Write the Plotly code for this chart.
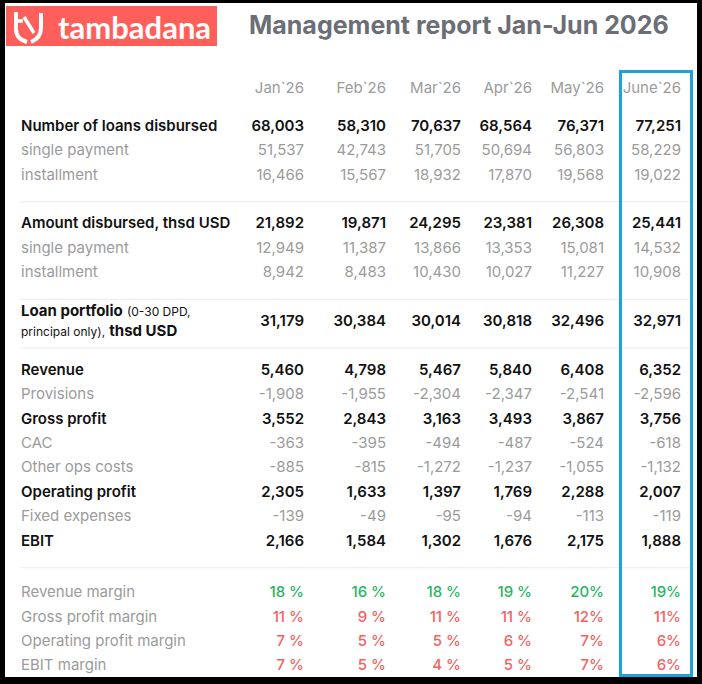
import plotly.graph_objects as go

# months / columns
months = ["Jan`26", "Feb`26", "Mar`26", "Apr`26", "May`26", "June`26"]

# loans (count)
loans_total = [68003, 58310, 70637, 68564, 76371, 77251]
loans_single = [51537, 42743, 51705, 50694, 56803, 58229]
loans_install = [16466, 15567, 18932, 17870, 19568, 19022]

# amount disbursed, thsd USD
amount_total = [21892, 19871, 24295, 23381, 26308, 25441]
amount_single = [12949, 11387, 13866, 13353, 15081, 14532]
amount_install = [8942, 8483, 10430, 10027, 11227, 10908]

# loan portfolio, thsd USD
portfolio = [31179, 30384, 30014, 30818, 32496, 32971]

# P&L, thsd USD
revenue = [5460, 4798, 5467, 5840, 6408, 6352]
provisions = [-1908, -1955, -2304, -2347, -2541, -2596]
gross_profit = [3552, 2843, 3163, 3493, 3867, 3756]
cac = [-363, -395, -494, -487, -524, -618]
other_ops = [-885, -815, -1272, -1237, -1055, -1132]
operating_profit = [2305, 1633, 1397, 1769, 2288, 2007]
fixed_exp = [-139, -49, -95, -94, -113, -119]
ebit = [2166, 1584, 1302, 1676, 2175, 1888]

# margins, %
revenue_margin = [18, 16, 18, 19, 20, 19]
gross_margin = [11, 9, 11, 11, 12, 11]
operating_margin = [7, 5, 5, 6, 7, 6]
ebit_margin = [7, 5, 4, 5, 7, 6]

portfolio_label = ("<b>Loan portfolio</b> <span style='font-size:12px'>(0-30 DPD,</span><br>"
                   "<span style='font-size:12px'>principal only),</span> <b>thsd USD</b>")

# (label, values, style, slot)
rows = [
  ("Number of loans disbursed", loans_total, "bold", 0),
  ("single payment", loans_single, "gray", 1),
  ("installment", loans_install, "gray", 2),
  ("Amount disbursed, thsd USD", amount_total, "bold", 4),
  ("single payment", amount_single, "gray", 5),
  ("installment", amount_install, "gray", 6),
  (portfolio_label, portfolio, "mixed", 8),
  ("Revenue", revenue, "bold", 10),
  ("Provisions", provisions, "gray", 11),
  ("Gross profit", gross_profit, "bold", 12),
  ("CAC", cac, "gray", 13),
  ("Other ops costs", other_ops, "gray", 14),
  ("Operating profit", operating_profit, "bold", 15),
  ("Fixed expenses", fixed_exp, "gray", 16),
  ("EBIT", ebit, "bold", 17),
  ("Revenue margin", revenue_margin, "green", 19.12),
  ("Gross profit margin", gross_margin, "red", 20.12),
  ("Operating profit margin", operating_margin, "red", 21.12),
  ("EBIT margin", ebit_margin, "red", 22.12),
]

# layout (pixel-like axes)
W, H = 702, 684
col_x = [304, 386, 461, 532, 604, 681]
pct_sep = [" ", " ", " ", " ", "", ""]
label_x = 21
row_y0, row_step = 127, 24.4
header_y = 89
separator_slots = [3, 7, 9, 18]

FONT = "Inter, Open Sans, sans-serif"
BLACK = "#111111"
GRAY = "#9b9b9b"
GREEN = "#1fb763"
RED = "#f4625f"

styles = {
  "bold": dict(color=BLACK, weight=600),
  "gray": dict(color=GRAY, weight=400),
  "mixed": dict(color=BLACK, weight=400),
  "green": dict(color=GREEN, weight=500),
  "red": dict(color=RED, weight=500),
}

def ypos(slot):
  return row_y0 + slot * row_step

def fmt(v, style, col):
  if style in ("green", "red"):
    return f"{v}{pct_sep[col]}%"
  return f"{v:,}"

fig = go.Figure()

# labels and values grouped by style
cells = {k: {"lx": [], "ly": [], "lt": [], "vx": [], "vy": [], "vt": []} for k in styles}
for label, values, style, slot in rows:
  c = cells[style]
  c["lx"].append(label_x)
  c["ly"].append(ypos(slot))
  c["lt"].append(label)
  for i, v in enumerate(values):
    c["vx"].append(col_x[i])
    c["vy"].append(ypos(slot))
    c["vt"].append(fmt(v, style, i))

for style, c in cells.items():
  st = styles[style]
  label_color = GRAY if style in ("gray", "green", "red") else BLACK
  label_weight = st["weight"] if style in ("bold", "gray", "mixed") else 400
  fig.add_trace(go.Scatter(
    x=c["lx"], y=c["ly"], text=c["lt"], mode="text", textposition="middle right",
    textfont=dict(family=FONT, size=15, color=label_color, weight=label_weight),
    hoverinfo="skip", showlegend=False,
  ))
  value_weight = 600 if style in ("bold", "mixed") else st["weight"]
  fig.add_trace(go.Scatter(
    x=c["vx"], y=c["vy"], text=c["vt"], mode="text", textposition="middle left",
    textfont=dict(family=FONT, size=15, color=st["color"], weight=value_weight),
    hoverinfo="skip", showlegend=False,
  ))

# month headers
fig.add_trace(go.Scatter(
  x=col_x, y=[header_y] * len(months), text=months, mode="text", textposition="middle left",
  textfont=dict(family=FONT, size=15, color=GRAY), hoverinfo="skip", showlegend=False,
))

shapes = [
  dict(type="rect", x0=5, x1=697, y0=3, y1=677, fillcolor="white", line_width=0, layer="below"),
  dict(type="rect", x0=6, x1=217, y0=6, y1=46, fillcolor="#ff5f5a", line_width=0, layer="below"),
  # logo glyph
  dict(type="path", path="M 16 12 L 16 29 Q 16 39 27 42", line=dict(color="white", width=4)),
  dict(type="path", path="M 41 13 L 41 28 Q 41 38 31 42", line=dict(color="white", width=4)),
  dict(type="path", path="M 16 21 L 23 21", line=dict(color="white", width=3.5)),
  dict(type="path", path="M 24 17 L 34 33", line=dict(color="white", width=3.5)),
  # highlighted last month
  dict(type="rect", x0=620.5, x1=691.5, y0=71.5, y1=675.5, line=dict(color="#19a3e3", width=3)),
]
for s in separator_slots:
  y = ypos(s) + 1.5
  shapes.append(dict(type="line", x0=20, x1=690, y0=y, y1=y, line=dict(color="#ececec", width=1), layer="below"))

fig.update_layout(
  width=W, height=H,
  margin=dict(l=0, r=0, t=0, b=0),
  paper_bgcolor="black", plot_bgcolor="black",
  xaxis=dict(range=[0, W], visible=False, fixedrange=True),
  yaxis=dict(range=[H, 0], visible=False, fixedrange=True),
  shapes=shapes,
  annotations=[
    dict(x=56, y=27, text="tambadana", showarrow=False, xanchor="left", yanchor="middle",
         font=dict(family="Lato, sans-serif", size=31, color="white", weight=700)),
    dict(x=247, y=25, text="Management report Jan-Jun 2026", showarrow=False, xanchor="left", yanchor="middle",
         font=dict(family=FONT, size=25, color="#6b6e75", weight=700)),
  ],
)

fig.write_html("out.html", config={"displayModeBar": False},
               post_script="document.body.style.margin='0';document.body.style.overflow='hidden';")
